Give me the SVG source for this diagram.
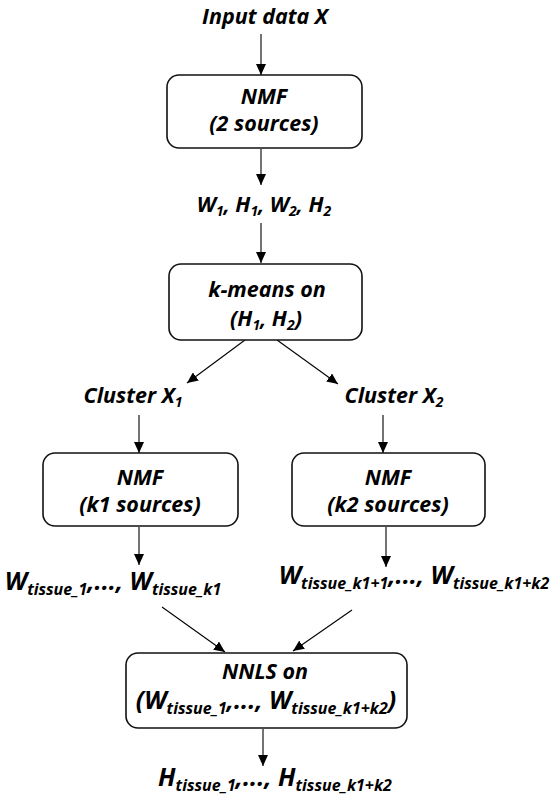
<svg xmlns="http://www.w3.org/2000/svg" width="555" height="798" viewBox="0 0 555 798">
<defs>
<marker id="ah" markerUnits="userSpaceOnUse" markerWidth="12" markerHeight="10" refX="11" refY="5" orient="auto">
<path d="M0,0 L11,5 L0,10 Z" fill="#000"/>
</marker>
<style>
.t{font-family:"Open Sans",Lato,"Liberation Sans",sans-serif;font-weight:bold;font-style:italic;font-size:21.5px;fill:#000;text-anchor:middle}
.s{font-size:14px}
.w{font-size:25px}
.w .s{font-size:16px}
.b{fill:#fff;stroke:#111;stroke-width:1.6}
.c line{stroke:#000;stroke-width:1.1;marker-end:url(#ah)}
</style>
</defs>
<rect width="555" height="798" fill="#fff"/>
<g class="c" id="connectors">
<line x1="261" y1="34" x2="261" y2="75"/>
<line x1="261" y1="149" x2="261" y2="185"/>
<line x1="261" y1="223" x2="261" y2="263"/>
<line x1="245" y1="340" x2="187" y2="383"/>
<line x1="277" y1="340" x2="338" y2="384"/>
<line x1="139" y1="415" x2="139" y2="453"/>
<line x1="383" y1="415" x2="383" y2="453"/>
<line x1="139" y1="527" x2="139" y2="565"/>
<line x1="386" y1="527" x2="386" y2="567"/>
<line x1="162" y1="607" x2="225" y2="652"/>
<line x1="352" y1="610" x2="293" y2="651"/>
<line x1="263" y1="729" x2="263" y2="766"/>
</g>
<g id="input"><text class="t" x="265" y="24">Input data X</text></g>
<g id="nmf2">
<rect class="b" x="167" y="75" width="195" height="73" rx="12"/>
<text class="t" x="264" y="104">NMF</text>
<text class="t" x="264" y="131">(2 sources)</text>
</g>
<g id="wh"><text class="t" x="264" y="212">W<tspan class="s" dy="4">1</tspan><tspan dy="-4">, H</tspan><tspan class="s" dy="4">1</tspan><tspan dy="-4">, W</tspan><tspan class="s" dy="4">2</tspan><tspan dy="-4">, H</tspan><tspan class="s" dy="4">2</tspan></text></g>
<g id="kmeans">
<rect class="b" x="169" y="264" width="193" height="76" rx="12"/>
<text class="t" x="267" y="297">k-means on</text>
<text class="t" x="266" y="326">(H<tspan class="s" dy="4">1</tspan><tspan dy="-4">, H</tspan><tspan class="s" dy="4">2</tspan><tspan dy="-4">)</tspan></text>
</g>
<g id="cluster1"><text class="t" x="133" y="403">Cluster X<tspan class="s" dy="4">1</tspan></text></g>
<g id="cluster2"><text class="t" x="394" y="403">Cluster X<tspan class="s" dy="4">2</tspan></text></g>
<g id="nmfk1">
<rect class="b" x="43" y="453" width="195" height="73" rx="12"/>
<text class="t" x="140" y="485">NMF</text>
<text class="t" x="140" y="512">(k1 sources)</text>
</g>
<g id="nmfk2">
<rect class="b" x="292" y="453" width="193" height="73" rx="12"/>
<text class="t" x="388" y="485">NMF</text>
<text class="t" x="388" y="512">(k2 sources)</text>
</g>
<g id="w1"><text class="t w" x="113" y="590">W<tspan class="s" dy="5">tissue_1</tspan><tspan dy="-5">,..., W</tspan><tspan class="s" dy="5">tissue_k1</tspan></text></g>
<g id="w2"><text class="t w" x="414" y="584">W<tspan class="s" dy="5">tissue_k1+1</tspan><tspan dy="-5">,..., W</tspan><tspan class="s" dy="5">tissue_k1+k2</tspan></text></g>
<g id="nnls">
<rect class="b" x="126" y="653" width="281" height="75" rx="12"/>
<text class="t" x="265" y="679">NNLS on</text>
<text class="t w" x="266" y="709">(W<tspan class="s" dy="5">tissue_1</tspan><tspan dy="-5">,..., W</tspan><tspan class="s" dy="5">tissue_k1+k2</tspan><tspan dy="-5">)</tspan></text>
</g>
<g id="hout"><text class="t w" x="275" y="786">H<tspan class="s" dy="5">tissue_1</tspan><tspan dy="-5">,..., H</tspan><tspan class="s" dy="5">tissue_k1+k2</tspan></text></g>
</svg>
